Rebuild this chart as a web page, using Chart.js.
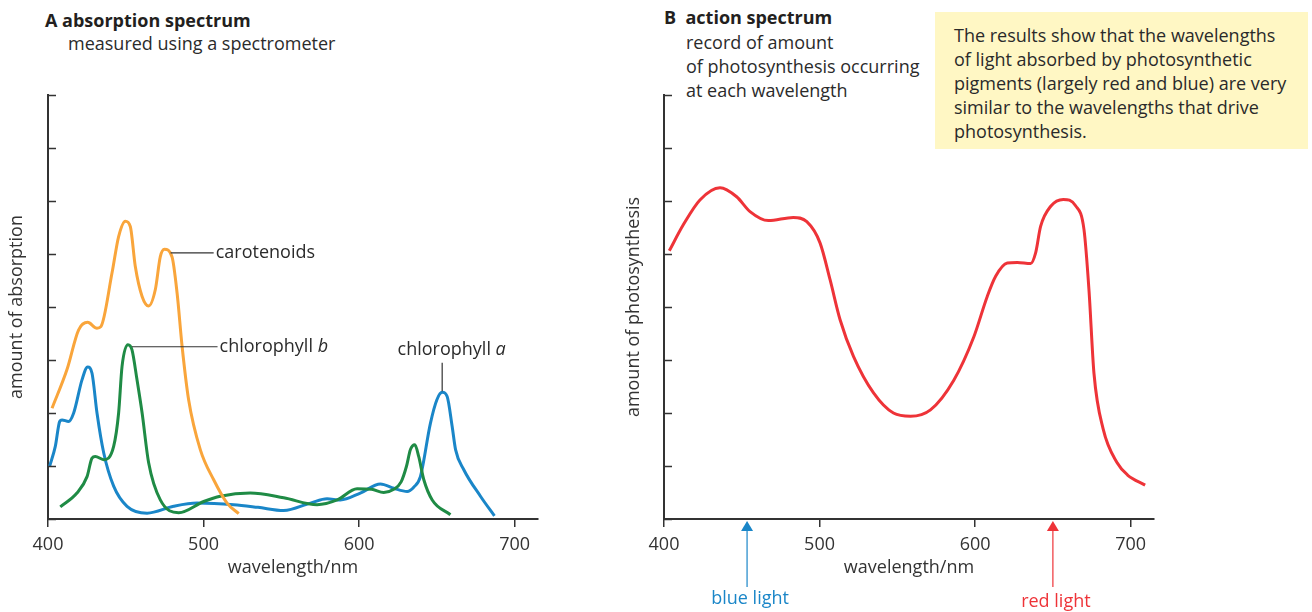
<!DOCTYPE html>
<html>
<head>
<meta charset="utf-8">
<script src="https://cdn.jsdelivr.net/npm/chart.js@4.4.1/dist/chart.umd.min.js"></script>
<style>
  body { margin: 0; width: 1312px; height: 612px; position: relative; overflow: hidden; background: #fff;
         font-family: "Open Sans", "Noto Sans", sans-serif; color: #231f20; }
  .wrap { position: absolute; top: 0; width: 560px; height: 612px; }
  .head { position: absolute; font-size: 18px; line-height: 24px; white-space: nowrap; color: #2b2b2b; }
  .head b { font-weight: 700; font-size: 18px; color: #231f20; }
  .note { position: absolute; left: 935px; top: 12px; width: 354px; height: 126px; background: #fff7c4;
          padding: 11px 0 0 19px; font-size: 18px; line-height: 24px; color: #2a2a2a; white-space: nowrap; }
</style>
</head>
<body>
<div class="head" style="left:45px;top:8px"><b>A absorption spectrum</b></div>
<div class="head" style="left:68px;top:31px">measured using a spectrometer</div>
<div class="head" style="left:664px;top:5px"><b>B&nbsp; action spectrum</b></div>
<div class="head" style="left:686px;top:30px">record of amount<br>of photosynthesis occurring<br>at each wavelength</div>
<div class="note">The results show that the wavelengths<br>of light absorbed by photosynthetic<br>pigments (largely red and blue) are very<br>similar to the wavelengths that drive<br>photosynthesis.</div>

<div class="wrap" style="left:0"><canvas id="absorption-graph"></canvas></div>
<div class="wrap" style="left:616px"><canvas id="action-graph"></canvas></div>

<script>
// wavelength ticks shared by both graphs
const xTicks = [400, 500, 600, 700];

// A: absorption spectrum
const carotX = [402.6, 412.2, 419.7, 425.5, 431.5, 434, 441.2, 445.4, 449.7, 452.9, 456.1, 460.5, 464.7, 469, 472.2, 474.8, 479.7, 483, 486.2, 490.4, 497.9, 506.5, 515.1, 522.6];
const carotY = [2.09, 2.82, 3.57, 3.71, 3.60, 3.63, 4.65, 5.33, 5.62, 5.52, 4.77, 4.20, 4.02, 4.33, 4.95, 5.09, 4.95, 4.26, 3.26, 2.25, 1.31, 0.74, 0.30, 0.10];

const chlBX = [407.9, 418.6, 425.1, 428.3, 430.4, 435.8, 442.2, 445.4, 447.6, 451.4, 454, 457.2, 460.5, 464.7, 472.2, 484, 500.1, 510.8, 530, 551.5, 573, 585.9, 598.7, 608, 615.8, 622.3, 627, 630.5, 633, 635.8, 638.3, 641.6, 647, 658.7];
const chlBY = [0.23, 0.49, 0.80, 1.15, 1.18, 1.12, 1.37, 2.0, 2.88, 3.29, 3.19, 2.63, 2.0, 1.06, 0.36, 0.12, 0.33, 0.43, 0.49, 0.40, 0.27, 0.36, 0.57, 0.56, 0.50, 0.56, 0.70, 1.00, 1.31, 1.40, 1.18, 0.74, 0.36, 0.08];

const chlAX = [401, 404.7, 407.5, 409, 413.2, 416.5, 421.9, 425.5, 428.3, 431.5, 435.8, 442.2, 450.8, 463.7, 480.8, 495.8, 519.4, 535, 551.5, 568.7, 579.4, 588, 600.8, 613.7, 622.3, 630.9, 635.1, 639.4, 645.8, 650, 653.4, 656.6, 659.8, 662, 667.3, 678, 687];
const chlAY = [0.99, 1.37, 1.84, 1.87, 1.84, 2.0, 2.63, 2.87, 2.75, 2.0, 1.25, 0.62, 0.24, 0.11, 0.24, 0.30, 0.27, 0.22, 0.16, 0.30, 0.38, 0.36, 0.49, 0.66, 0.58, 0.52, 0.60, 0.80, 1.80, 2.25, 2.39, 2.31, 1.75, 1.31, 0.93, 0.43, 0.06];

// B: action spectrum
const actionX = [403.4, 412.4, 423.1, 436, 446.7, 455.3, 467.1, 483.1, 491.8, 500.3, 506.8, 513.2, 521.8, 534.7, 547.5, 558.5, 571.3, 586.3, 599.2, 607.8, 613.2, 620.7, 627.1, 635.7, 638.9, 642.1, 648.6, 656.7, 664.6, 670, 673.2, 676.4, 682.3, 691.3, 698, 709.3];
const actionY = [5.06, 5.55, 6.02, 6.25, 6.08, 5.80, 5.63, 5.69, 5.61, 5.21, 4.51, 3.76, 3.07, 2.38, 2.0, 1.94, 2.06, 2.62, 3.44, 4.2, 4.58, 4.83, 4.84, 4.82, 5.02, 5.52, 5.9, 6.03, 5.91, 5.46, 4.32, 2.75, 1.70, 1.06, 0.83, 0.64];

// arrows under graph B
const lightNames = ['blue light', 'red light'];
const lightX = [453.4, 650];
const lightColors = ['#1a86c8', '#ee3338'];

const FONT = '"Open Sans", "Noto Sans", sans-serif';
const INK = '#333333';

function toPoints(xs, ys) {
    return xs.map((x, i) => ({ x: x, y: ys[i] }));
}

function curve(label, xs, ys, color) {
    return {
        label: label,
        data: toPoints(xs, ys),
        borderColor: color,
        borderWidth: 3,
        pointRadius: 0,
        cubicInterpolationMode: 'monotone',
        fill: false
    };
}

// y ticks point into the plot
const inwardTicks = {
    id: 'inwardTicks',
    afterDraw(chart) {
        const { ctx, chartArea } = chart;
        const y = chart.scales.y;
        ctx.save();
        ctx.strokeStyle = INK;
        ctx.lineWidth = 1.5;
        y.ticks.forEach(t => {
            const py = Math.round(y.getPixelForValue(t.value)) + 0.5;
            ctx.beginPath();
            ctx.moveTo(chartArea.left, py);
            ctx.lineTo(chartArea.left + 8, py);
            ctx.stroke();
        });
        ctx.restore();
    }
};

// labels with leader lines on graph A
const curveLabels = {
    id: 'curveLabels',
    afterDatasetsDraw(chart) {
        const { ctx } = chart;
        const x = chart.scales.x, y = chart.scales.y;
        ctx.save();
        ctx.strokeStyle = INK;
        ctx.lineWidth = 1.2;
        ctx.fillStyle = '#2b2b2b';
        ctx.font = '18px ' + FONT;
        ctx.textBaseline = 'middle';

        // carotenoids
        let py = y.getPixelForValue(5.02);
        ctx.beginPath();
        ctx.moveTo(x.getPixelForValue(478.8), py);
        ctx.lineTo(x.getPixelForValue(506.5), py);
        ctx.stroke();
        ctx.fillText('carotenoids', x.getPixelForValue(507.8), py);

        // chlorophyll b
        py = y.getPixelForValue(3.25);
        ctx.beginPath();
        ctx.moveTo(x.getPixelForValue(454), py);
        ctx.lineTo(x.getPixelForValue(509), py);
        ctx.stroke();
        let tx = x.getPixelForValue(510.3);
        ctx.fillText('chlorophyll ', tx, py);
        tx += ctx.measureText('chlorophyll ').width;
        ctx.font = 'italic 18px ' + FONT;
        ctx.fillText('b', tx, py);

        // chlorophyll a
        ctx.font = '18px ' + FONT;
        const lx = x.getPixelForValue(653.4);
        ctx.beginPath();
        ctx.moveTo(lx, y.getPixelForValue(2.95));
        ctx.lineTo(lx, y.getPixelForValue(2.41));
        ctx.stroke();
        const w1 = ctx.measureText('chlorophyll ').width;
        ctx.font = 'italic 18px ' + FONT;
        const w2 = ctx.measureText('a').width;
        const cx = x.getPixelForValue(659.5);
        const sx = cx - (w1 + w2) / 2;
        py = y.getPixelForValue(3.2);
        ctx.font = '18px ' + FONT;
        ctx.fillText('chlorophyll ', sx, py);
        ctx.font = 'italic 18px ' + FONT;
        ctx.fillText('a', sx + w1, py);
        ctx.restore();
    }
};

// blue / red light arrows below graph B
const lightArrows = {
    id: 'lightArrows',
    afterDraw(chart) {
        const { ctx, chartArea } = chart;
        const x = chart.scales.x;
        ctx.save();
        ctx.font = '18px ' + FONT;
        ctx.textAlign = 'center';
        ctx.textBaseline = 'middle';
        lightX.forEach((v, i) => {
            const px = x.getPixelForValue(v);
            const top = chartArea.bottom + 2;
            ctx.strokeStyle = lightColors[i];
            ctx.fillStyle = lightColors[i];
            ctx.lineWidth = 1.2;
            ctx.beginPath();
            ctx.moveTo(px, top + 8);
            ctx.lineTo(px, top + 66);
            ctx.stroke();
            ctx.beginPath();
            ctx.moveTo(px, top);
            ctx.lineTo(px - 6, top + 10);
            ctx.lineTo(px + 6, top + 10);
            ctx.closePath();
            ctx.fill();
            ctx.fillText(lightNames[i], px + 3, top + 78 + i * 3);
        });
        ctx.restore();
    }
};

function spectrumOptions(yTitle, yTitlePad) {
    return {
        responsive: true,
        maintainAspectRatio: false,
        animation: false,
        layout: { padding: { top: 95, right: 22, left: 0, bottom: 0 } },
        scales: {
            x: {
                type: 'linear',
                min: 400,
                max: 715,
                afterBuildTicks: scale => { scale.ticks = xTicks.map(v => ({ value: v })); },
                afterFit: scale => { scale.height = 93; },
                grid: { drawOnChartArea: false, drawTicks: true, tickLength: 8, color: INK, lineWidth: 1.5 },
                border: { color: INK, width: 2 },
                ticks: { color: INK, font: { family: FONT, size: 18 }, padding: 7, maxRotation: 0 },
                title: { display: true, text: 'wavelength/nm', color: INK, font: { family: FONT, size: 18 }, padding: { top: 0, bottom: 33 } }
            },
            y: {
                min: 0,
                max: 8,
                ticks: { display: false, stepSize: 1 },
                afterFit: scale => { scale.width = 48; },
                grid: { display: false },
                border: { color: INK, width: 2 },
                title: { display: true, text: yTitle, color: INK, font: { family: FONT, size: 18 }, padding: { top: yTitlePad, bottom: 0 } }
            }
        },
        plugins: {
            legend: { display: false },
            tooltip: { enabled: false }
        }
    };
}

new Chart(document.getElementById('absorption-graph').getContext('2d'), {
    type: 'line',
    data: {
        datasets: [
            curve('carotenoids', carotX, carotY, '#f9a53b'),
            curve('chlorophyll b', chlBX, chlBY, '#1f8b45'),
            curve('chlorophyll a', chlAX, chlAY, '#1a86c8')
        ]
    },
    options: spectrumOptions('amount of absorption', 6),
    plugins: [inwardTicks, curveLabels]
});

new Chart(document.getElementById('action-graph').getContext('2d'), {
    type: 'line',
    data: {
        datasets: [curve('action spectrum', actionX, actionY, '#ee3338')]
    },
    options: spectrumOptions('amount of photosynthesis', 7),
    plugins: [inwardTicks, lightArrows]
});
</script>
</body>
</html>
